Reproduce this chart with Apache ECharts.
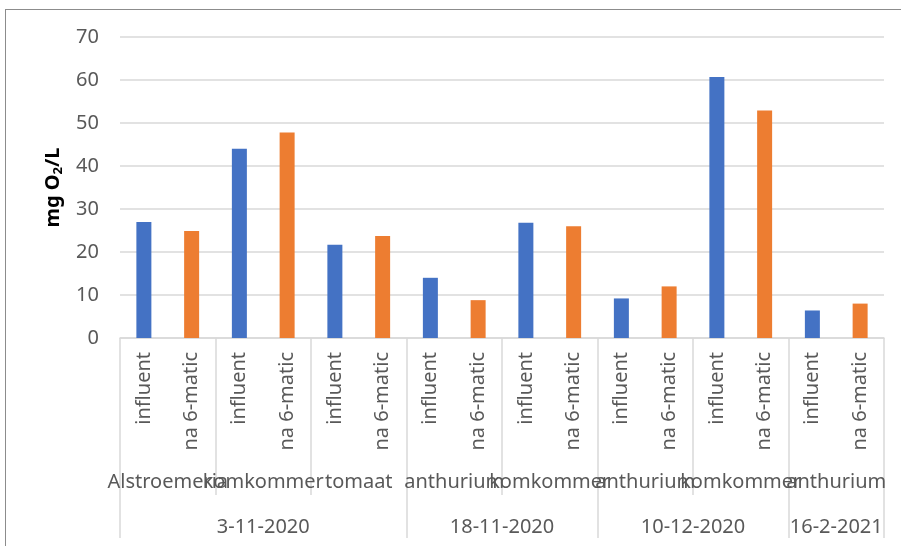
<!DOCTYPE html>
<html>
<head>
<meta charset="utf-8">
<script src="https://cdn.jsdelivr.net/npm/echarts@6/dist/echarts.min.js"></script>
<style>
    body { margin: 0; background: #fff; }
    #chart { position: absolute; left: 0; top: 0; width: 901px; height: 546px; }
    .frame { position: absolute; left: 5px; top: 9px; width: 920px; height: 560px; border: 1px solid #8c8c8c; pointer-events: none; }
</style>
</head>
<body>
<div id="chart"></div>
<div class="frame"></div>
<script>
// sub labels per bar (influent / na 6-matic pairs)
const subLabels = [
    'influent', 'na 6-matic', 'influent', 'na 6-matic', 'influent', 'na 6-matic', 'influent', 'na 6-matic',
    'influent', 'na 6-matic', 'influent', 'na 6-matic', 'influent', 'na 6-matic', 'influent', 'na 6-matic'
]
const crops = ['Alstroemeria', 'komkommer', 'tomaat', 'anthurium', 'komkommer', 'anthurium', 'komkommer', 'anthurium']
// date labels on bar boundaries (0..16), label at the middle of each span
const dateLabels = ['', '', '', '3-11-2020', '', '', '', '', '18-11-2020', '', '', '', '10-12-2020', '', '', '16-2-2021', '']
const dateBounds = [0, 6, 10, 14, 16]
const influent = [27, 44, 21.7, 14, 26.8, 9.2, 60.7, 6.4]
const na6matic = [24.9, 47.8, 23.7, 8.8, 26, 12, 52.9, 8]

const font = 'Noto Sans'
const gray = '#595959'
const lineGray = '#d9d9d9'

let influentData = [], na6Data = []
influent.forEach((v, i) => {
    influentData.push(v, '-')
    na6Data.push('-', na6matic[i])
})

let chart = echarts.init(document.getElementById('chart'))
let option = {
    animation: false,
    grid: {
        left: 120,
        right: 17,
        top: 37,
        bottom: 208
    },
    xAxis: [
        {
            type: 'category',
            data: subLabels,
            axisLine: { show: true, lineStyle: { color: lineGray, width: 1.5 } },
            axisTick: { show: false },
            axisLabel: {
                interval: 0,
                rotate: 90,
                margin: 14,
                color: gray,
                fontSize: 20,
                fontFamily: font
            }
        },
        {
            type: 'category',
            data: crops,
            position: 'bottom',
            axisLine: { show: false },
            axisTick: { show: true, interval: 0, length: 157, lineStyle: { color: lineGray, width: 1.5 } },
            axisLabel: {
                interval: 0,
                margin: 134,
                color: gray,
                fontSize: 20,
                fontFamily: font
            }
        },
        {
            type: 'category',
            data: dateLabels,
            position: 'bottom',
            boundaryGap: false,
            axisLine: { show: false },
            axisTick: {
                show: true,
                interval: (idx) => dateBounds.indexOf(idx) >= 0,
                length: 200,
                lineStyle: { color: lineGray, width: 1.5 }
            },
            axisLabel: {
                interval: (idx, val) => val !== '',
                margin: 179,
                color: gray,
                fontSize: 20,
                fontFamily: font
            }
        }
    ],
    yAxis: {
        type: 'value',
        min: 0,
        max: 70,
        interval: 10,
        name: 'mg O{s|2}/L',
        nameLocation: 'middle',
        nameGap: 52,
        nameTextStyle: {
            color: '#000',
            fontWeight: 'bold',
            fontSize: 20,
            fontFamily: font,
            rich: {
                s: { fontSize: 13, fontWeight: 'bold', fontFamily: font, color: '#000', padding: [10, 0, 0, 0] }
            }
        },
        axisLine: { show: false },
        axisTick: { show: false },
        axisLabel: { margin: 21, color: gray, fontSize: 20, fontFamily: font },
        splitLine: { lineStyle: { color: lineGray, width: 1.5 } }
    },
    series: [
        {
            name: 'influent',
            type: 'bar',
            stack: 'a',
            barWidth: 15,
            itemStyle: { color: '#4472c4' },
            data: influentData
        },
        {
            name: 'na 6-matic',
            type: 'bar',
            stack: 'a',
            barWidth: 15,
            itemStyle: { color: '#ed7d31' },
            data: na6Data
        }
    ]
}
chart.setOption(option)
</script>
</body>
</html>
